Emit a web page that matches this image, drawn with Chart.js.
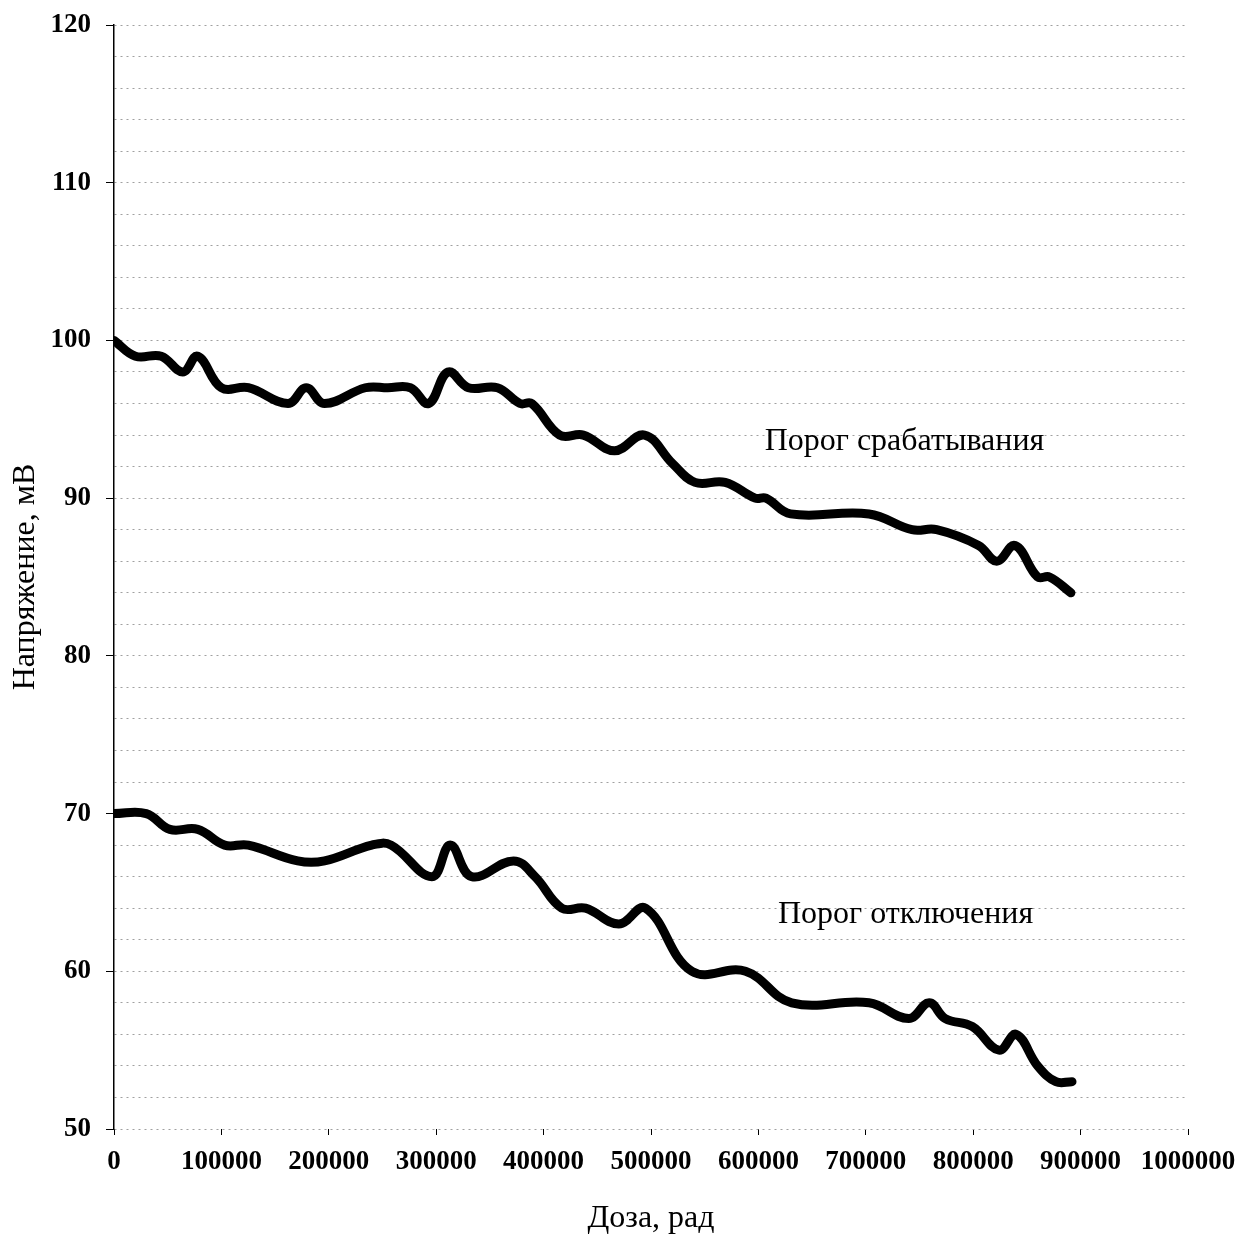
<!DOCTYPE html>
<html>
<head>
<meta charset="utf-8">
<script src="https://cdn.jsdelivr.net/npm/chart.js@4/dist/chart.umd.min.js"></script>
<style>
  html, body { margin: 0; padding: 0; background: #fff; }
  #wrap { width: 1256px; height: 1239px; position: relative; }
</style>
</head>
<body>
<div id="wrap"><canvas id="c" width="1256" height="1239"></canvas></div>
<script>
// Dose (rad) and threshold voltage (mV) for the trigger threshold
const doseOn = [0, 20000, 44000, 64000, 78000, 100000, 125000, 162000, 179000, 196000,
  234000, 255000, 276000, 293000, 311000, 330000, 357000, 378000, 389000, 415000, 437000,
  466000, 494000, 520000, 541000, 569000, 597000, 607000, 630000, 703000, 743000,
  766000, 805000, 822000, 839000, 860000, 871000, 891000];
const voltOn = [100, 99, 99, 98, 99, 97, 97, 96, 97, 96,
  97, 97, 97, 96, 98, 97, 97, 96, 96, 94, 94,
  93, 94, 92.2, 91, 91, 90, 90, 89, 89, 88,
  88, 87, 86, 87, 85, 85, 84];

// Dose (rad) and threshold voltage (mV) for the release threshold
const doseOff = [0, 30000, 52000, 78000, 103000, 125000, 171000, 196000, 240000, 258000,
  296000, 313000, 333000, 372000, 392000, 417000, 439000, 470000, 495000, 538000,
  588000, 631000, 703000, 740000, 759000, 774000, 799000, 824000, 840000, 860000,
  877000, 892000];
const voltOff = [70, 70, 69, 69, 68, 68, 67, 67, 68, 68,
  66, 68, 66, 67, 66, 64, 64, 63, 64, 60,
  60, 58, 58, 57, 58, 57, 56.5, 55, 56, 54,
  53, 53];

const seriesNames = ['Порог срабатывания', 'Порог отключения'];
// Where each curve's caption sits, in axis units (dose, mV)
const captionDose = [736000, 737000];
const captionVolt = [93.6, 63.6];

const xTicks = { min: 0, max: 1000000, step: 100000 };
const yTicks = { min: 50, max: 120, step: 2, labelEvery: 10 };

const SERIF = '"Liberation Serif", "Times New Roman", serif';

const toPoints = (xs, ys) => xs.map((x, i) => ({ x: x, y: ys[i] }));

const captions = {
  id: 'captions',
  afterDatasetsDraw(chart) {
    const { ctx, scales } = chart;
    ctx.save();
    ctx.fillStyle = '#000';
    ctx.font = '32px ' + SERIF;
    ctx.textAlign = 'center';
    ctx.textBaseline = 'middle';
    seriesNames.forEach((name, i) => {
      ctx.fillText(name, scales.x.getPixelForValue(captionDose[i]), scales.y.getPixelForValue(captionVolt[i]));
    });
    ctx.restore();
  }
};

new Chart(document.getElementById('c'), {
  type: 'line',
  data: {
    datasets: [
      { label: seriesNames[0], data: toPoints(doseOn, voltOn) },
      { label: seriesNames[1], data: toPoints(doseOff, voltOff) }
    ]
  },
  options: {
    responsive: false,
    animation: false,
    layout: { padding: { top: 25, right: 68, left: 0, bottom: 0 } },
    elements: {
      line: { borderColor: '#000', borderWidth: 9, tension: 0.4, borderCapStyle: 'round', borderJoinStyle: 'round' },
      point: { radius: 0, hoverRadius: 0 }
    },
    plugins: { legend: { display: false }, tooltip: { enabled: false } },
    scales: {
      x: {
        type: 'linear',
        min: xTicks.min, max: xTicks.max,
        afterFit(scale) { scale.height = 110; },
        border: { display: false },
        grid: { drawOnChartArea: false, drawTicks: true, tickLength: 6, tickColor: '#000', lineWidth: 1 },
        ticks: {
          stepSize: xTicks.step,
          color: '#000',
          padding: 11,
          maxRotation: 0,
          autoSkip: false,
          font: { family: SERIF, size: 27, weight: 'bold' },
          callback: (v) => String(v)
        },
        title: {
          display: true,
          text: 'Доза, рад',
          color: '#000',
          font: { family: SERIF, size: 32 },
          padding: { top: 30, bottom: 1 }
        }
      },
      y: {
        min: yTicks.min, max: yTicks.max,
        afterFit(scale) { scale.width = 114; scale.paddingTop = 0; scale.paddingBottom = 0; },
        border: { display: true, color: '#000', width: 1.5, dash: [2, 4] },
        grid: {
          color: '#a0a0a0',
          lineWidth: 1,
          drawTicks: true,
          tickLength: 8,
          tickBorderDash: [],
          tickColor: (c) => (c.tick && c.tick.value % yTicks.labelEvery === 0) ? '#000' : 'rgba(0,0,0,0)'
        },
        ticks: {
          stepSize: yTicks.step,
          color: '#000',
          padding: 15,
          autoSkip: false,
          font: { family: SERIF, size: 27, weight: 'bold' },
          callback: (v) => (v % yTicks.labelEvery === 0 ? String(v) : '')
        },
        title: {
          display: true,
          text: 'Напряжение, мВ',
          color: '#000',
          font: { family: SERIF, size: 32 },
          padding: { top: 6, bottom: 0 }
        }
      }
    }
  },
  plugins: [captions]
});
</script>
</body>
</html>
